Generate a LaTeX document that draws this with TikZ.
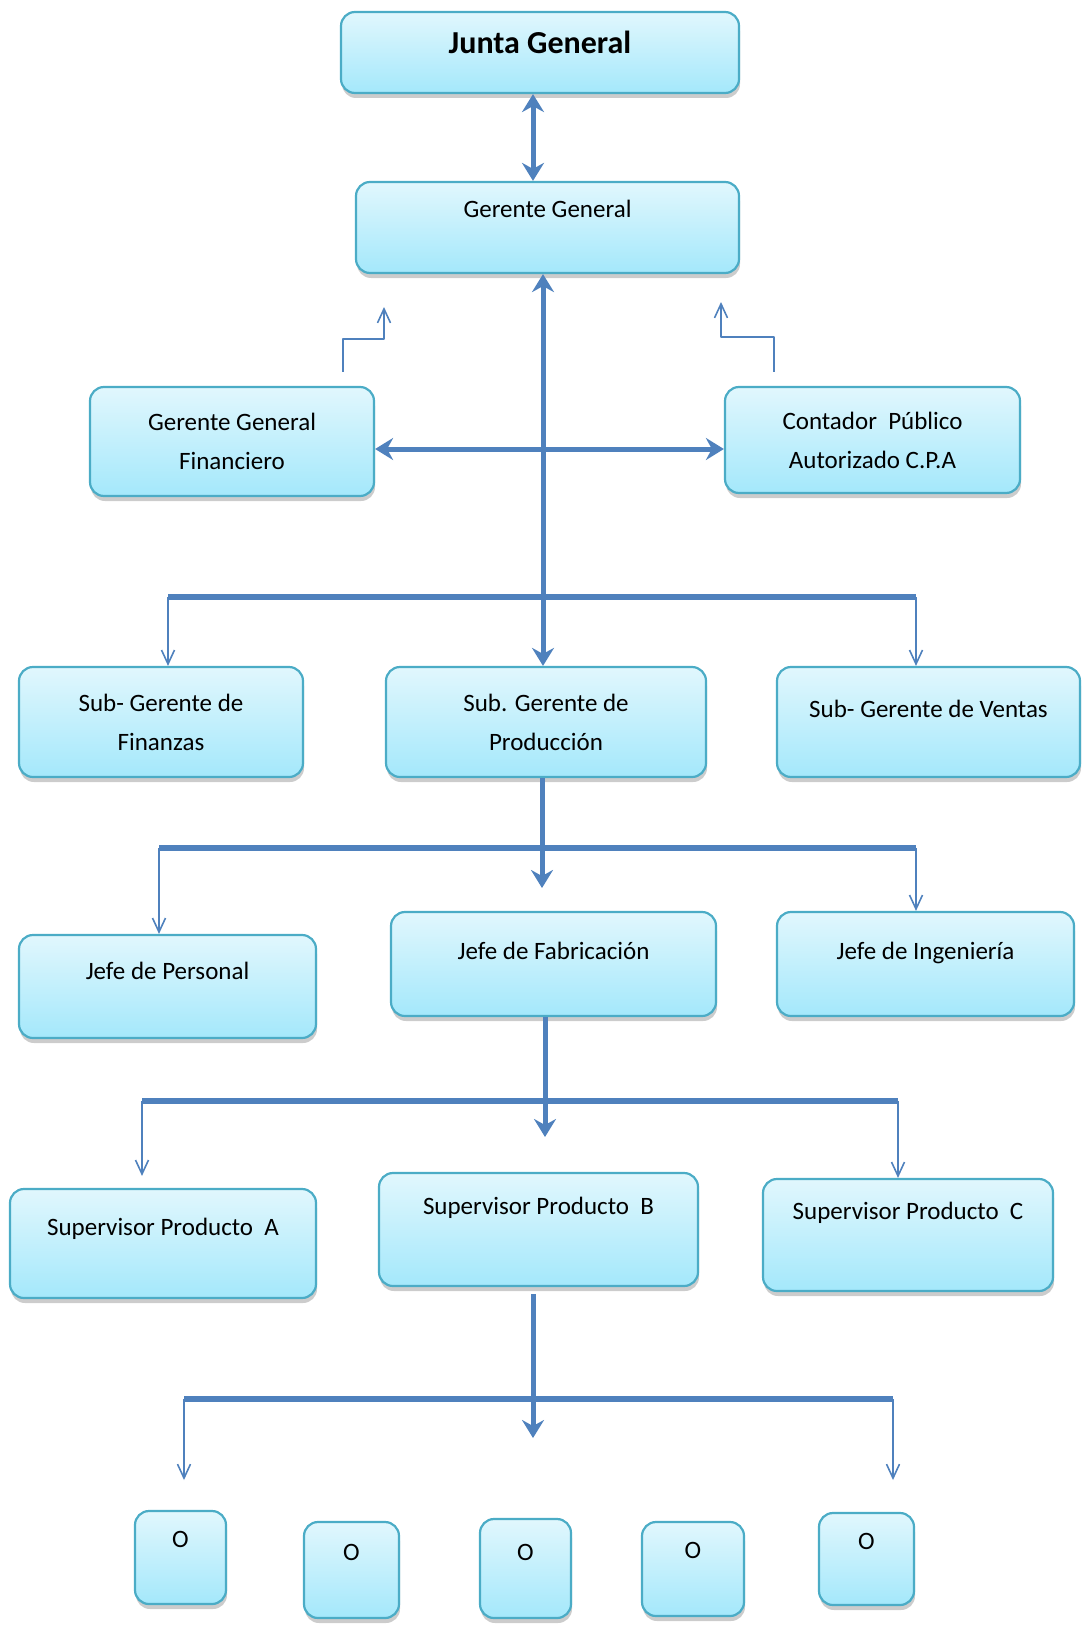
\documentclass[tikz,border=0pt]{standalone}
\usepackage{fontspec}
\setmainfont{Carlito}
\usetikzlibrary{arrows.meta,shadows}
\definecolor{linea}{HTML}{4F81BD}
\definecolor{borde}{HTML}{4BACC6}
\definecolor{claro}{HTML}{E1F7FD}
\definecolor{cielo}{HTML}{A4E8FB}
\begin{document}
\begin{tikzpicture}[x=1pt,y=-1pt,font=\fontsize{25}{39}\selectfont,line join=round,>={Stealth[length=18pt,width=22pt,inset=6pt]},
	caja/.style={draw=borde,line width=2.2pt,rounded corners=14pt,top color=claro,bottom color=cielo,drop shadow={shadow xshift=1pt,shadow yshift=-5pt,opacity=.4},align=center,inner sep=0pt},
	lift/.style={text height=17pt,text depth=#1},
	grueso/.style={draw=linea,line width=5pt},
	fina/.style={draw=linea,line width=1.6pt,-{Straight Barb[length=14pt,width=13pt]}}]
	\useasboundingbox (0,0) rectangle (1081,1629);
	% cajas
	\node[caja,minimum width=398pt,minimum height=81pt,font=\fontsize{32}{38}\selectfont\bfseries,text height=21pt,text depth=19pt] (junta) at (540,52.5) {Junta General};
	\node[caja,minimum width=383pt,minimum height=91pt,lift=36pt] (gerente) at (547.5,227.5) {Gerente General};
	\node[caja,minimum width=284pt,minimum height=109pt] (financiero) at (232,441.5) {Gerente General\\Financiero};
	\node[caja,minimum width=295pt,minimum height=106pt] (contador) at (872.5,440) {Contador\ \ Público\\Autorizado C.P.A};
	\node[caja,minimum width=284pt,minimum height=110pt] (sfin) at (161,722) {Sub- Gerente de\\Finanzas};
	\node[caja,minimum width=320pt,minimum height=110pt] (sprod) at (546,722) {Sub. Gerente de\\Producción};
	\node[caja,minimum width=303pt,minimum height=110pt,lift=27pt] (sven) at (928.5,722) {Sub- Gerente de Ventas};
	\node[caja,minimum width=297pt,minimum height=103pt,lift=32pt] (jpers) at (167.5,986.5) {Jefe de Personal};
	\node[caja,minimum width=325pt,minimum height=104pt,lift=27pt] (jfab) at (553.5,964) {Jefe de Fabricación};
	\node[caja,minimum width=297pt,minimum height=104pt,lift=27pt] (jing) at (925.5,964) {Jefe de Ingeniería};
	\node[caja,minimum width=306pt,minimum height=109pt,lift=34pt] (supa) at (163,1243.5) {Supervisor Producto\ \ A};
	\node[caja,minimum width=319pt,minimum height=113pt,lift=48pt] (supb) at (538.5,1229.5) {Supervisor Producto\ \ B};
	\node[caja,minimum width=290pt,minimum height=112pt,lift=49pt] (supc) at (908,1235) {Supervisor Producto\ \ C};
	\node[caja,minimum width=91pt,minimum height=93pt,lift=38pt] (o1) at (180.5,1557.5) {O};
	\node[caja,minimum width=95pt,minimum height=96pt,lift=37pt] (o2) at (351.5,1570) {O};
	\node[caja,minimum width=91pt,minimum height=99pt,lift=34pt] (o3) at (525.5,1568.5) {O};
	\node[caja,minimum width=102pt,minimum height=94pt,lift=39pt] (o4) at (693,1569) {O};
	\node[caja,minimum width=95pt,minimum height=92pt,lift=37pt] (o5) at (866.5,1559) {O};
	% puntos de las barras
	\coordinate (fin-up) at (384,307); \coordinate (cpa-up) at (721,302);
	\coordinate (b1l) at (168,597); \coordinate (b1r) at (916,597);
	\coordinate (b2l) at (159,848); \coordinate (b2r) at (916,848); \coordinate (c2) at (542,888);
	\coordinate (b3l) at (142,1101); \coordinate (b3r) at (898,1101); \coordinate (c3) at (545,1137);
	\coordinate (b4l) at (184,1399); \coordinate (b4r) at (893,1399); \coordinate (c4) at (533,1438);
	\coordinate (d4l) at (184,1480); \coordinate (d4r) at (893,1480);
	% flechas
	\draw[grueso,<->] ([xshift=-7pt]junta.south) -- ([xshift=-14.5pt]gerente.north);
	\draw[grueso,<->] ([xshift=-4.5pt]gerente.south) -- ([xshift=-3pt]sprod.north);
	\draw[grueso,<->] ([yshift=-7.5pt]financiero.east) -- ([yshift=-9pt]contador.west);
	\draw[fina] ([xshift=111pt,yshift=14pt]financiero.north) -- ++(0,-33) -| (fin-up);
	\draw[fina] ([xshift=-98.5pt,yshift=14pt]contador.north) -- ++(0,-35) -| (cpa-up);
	\draw[grueso,line width=6pt] (b1l) -- (b1r);
	\draw[fina] (b1l) -- (b1l |- sfin.north);
	\draw[fina] (b1r) -- (b1r |- sven.north);
	\draw[grueso,->] ([xshift=-4pt]sprod.south) -- (c2);
	\draw[grueso,line width=6pt] (b2l) -- (b2r);
	\draw[fina] (b2l) -- (b2l |- jpers.north);
	\draw[fina] (b2r) -- (b2r |- jing.north);
	\draw[grueso,->] ([xshift=-8.5pt]jfab.south) -- (c3);
	\draw[grueso,line width=6pt] (b3l) -- (b3r);
	\draw[fina,shorten >=12pt] (b3l) -- (b3l |- supa.north);
	\draw[fina] (b3r) -- (b3r |- supc.north);
	\draw[grueso,->,shorten <=7pt] ([xshift=-5.5pt]supb.south) -- (c4);
	\draw[grueso,line width=6pt] (b4l) -- (b4r);
	\draw[fina] (b4l) -- (d4l);
	\draw[fina] (b4r) -- (d4r);
\end{tikzpicture}
\end{document}
